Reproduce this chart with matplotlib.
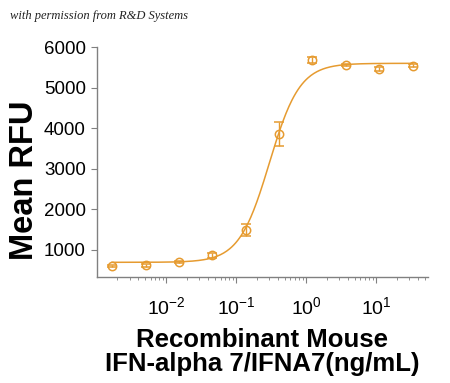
import numpy as np
import matplotlib
matplotlib.use('Agg')
import matplotlib.pyplot as plt
from matplotlib.ticker import LogLocator, FixedLocator, NullFormatter

plt.rcParams['font.family'] = ['Liberation Sans', 'DejaVu Sans']
plt.rcParams['mathtext.default'] = 'regular'

# measured points (ng/mL, mean RFU, error)
conc = [0.00169, 0.00508, 0.0152, 0.0457, 0.137, 0.412, 1.23, 3.70, 11.1, 33.3]
rfu = [600, 614, 700, 865, 1495, 3850, 5680, 5565, 5460, 5540]
err = [30, 40, 30, 60, 150, 300, 70, 30, 60, 40]

# 4PL fit parameters
bottom, top, ec50, hill = 690, 5600, 0.30, 2.0

col = '#E69B30'

fig = plt.figure(figsize=(4.5, 3.83), dpi=100)
ax = fig.add_axes([0.2156, 0.277, 0.735, 0.6])

xs = np.logspace(np.log10(0.00169), np.log10(33.3), 300)
fit = bottom + (top - bottom) / (1 + (ec50 / xs) ** hill)
ax.plot(xs, fit, color=col, lw=1.1)
ax.errorbar(conc, rfu, yerr=err, fmt='o', mfc='none', mec=col, ecolor=col,
            ms=6, mew=1.1, elinewidth=1.0, capsize=3.5, capthick=1.0)

ax.set_xscale('log')
ax.set_xlim(1.03e-3, 55)
ax.set_ylim(330, 6000)
ax.yaxis.set_major_locator(FixedLocator([1000, 2000, 3000, 4000, 5000, 6000]))
ax.xaxis.set_major_locator(FixedLocator([1e-2, 1e-1, 1, 10]))
ax.xaxis.set_minor_locator(LogLocator(base=10, subs=np.arange(2, 10), numticks=20))
ax.xaxis.set_minor_formatter(NullFormatter())

for s in ['top', 'right']:
    ax.spines[s].set_visible(False)
for s in ['left', 'bottom']:
    ax.spines[s].set_color('#808080')
    ax.spines[s].set_linewidth(1.0)

ax.tick_params(axis='both', which='major', direction='out', length=4, color='#808080',
               labelsize=13.5, pad=4)
ax.tick_params(axis='x', which='major', pad=10, labelsize=14)
ax.tick_params(axis='x', which='minor', direction='out', length=2.5, color='#808080')

ax.set_ylabel('Mean RFU', fontsize=23.5, fontweight='bold', labelpad=3)
ax.yaxis.label.set_y(0.42)
ax.set_xlabel('Recombinant Mouse\nIFN-alpha 7/IFNA7(ng/mL)', fontsize=18.5,
              fontweight='bold', labelpad=7, linespacing=1.0)

fig.text(0.022, 0.958, 'with permission from R&D Systems', fontsize=9,
         family='Liberation Serif', style='italic', va='center', color='#222222')

fig.savefig('out.png', dpi=100)
